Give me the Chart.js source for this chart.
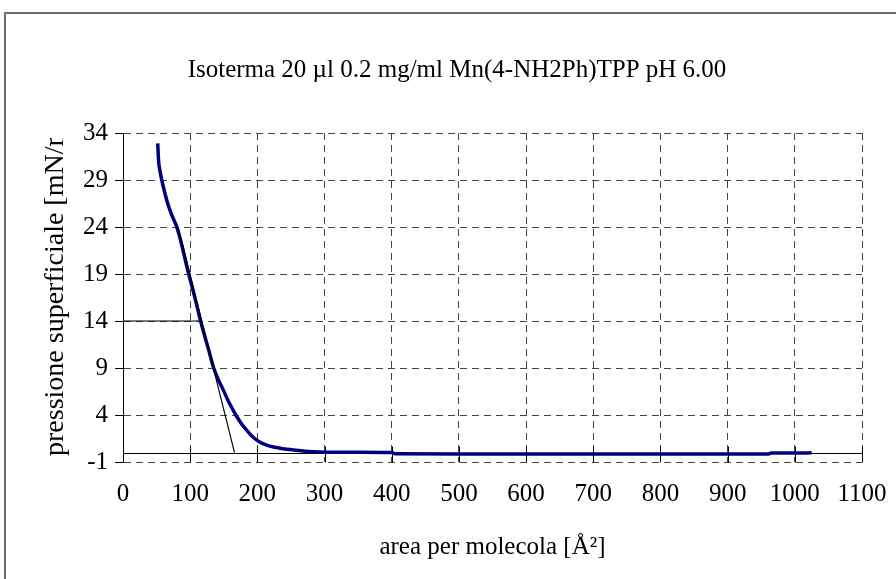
<!DOCTYPE html>
<html>
<head>
<meta charset="utf-8">
<title>Isoterma Mn(4-NH2Ph)TPP</title>
<script src="https://cdn.jsdelivr.net/npm/chart.js@4.4.1/dist/chart.umd.min.js"></script>
<style>
    html, body { margin: 0; padding: 0; background: #fff; }
    #wrap { width: 896px; height: 579px; }
</style>
</head>
<body>
<div id="wrap"><canvas id="isoterma" width="896" height="579"></canvas></div>
<script>
// area per molecola [Å²] and pressione superficiale [mN/m]
const area = [51.7, 53, 55, 58, 62, 67, 73, 80, 86, 91, 97, 103, 109, 115.5, 122, 128, 134.5, 141, 149, 156, 161, 168, 176, 184, 190, 196, 204, 214, 224, 238, 254, 268, 283, 300, 350, 400, 405, 500, 600, 700, 800, 900, 960, 965, 1000, 1025];
const pressione = [32.9, 31, 30.0, 28.9, 27.7, 26.4, 25.2, 24.0, 22.5, 21.0, 19.2, 17.6, 15.9, 14.0, 12.3, 10.8, 9.1, 7.9, 6.7, 5.6, 4.9, 4.0, 3.1, 2.4, 1.9, 1.5, 1.1, 0.8, 0.6, 0.42, 0.28, 0.18, 0.1, 0.05, 0.03, 0.0, -0.12, -0.15, -0.15, -0.15, -0.15, -0.15, -0.15, -0.05, -0.05, -0.02];

// tangente al tratto lineare e lettura a 14 mN/m
const tangenteArea = [82, 166];
const tangentePress = [24, 0];
const letturaArea = [0, 117];
const letturaPress = [14, 14];

const xTicks = [0, 100, 200, 300, 400, 500, 600, 700, 800, 900, 1000, 1100];
const yTicks = [-1, 4, 9, 14, 19, 24, 29, 34];

const titolo = 'Isoterma 20 \u00b5l 0.2 mg/ml Mn(4-NH2Ph)TPP pH 6.00';
const titoloX = 'area per molecola [\u00c5\u00b2]';
const titoloY = 'pressione superficiale [mN/m]';

const serif = "'Liberation Serif', 'Times New Roman', serif";

function toPoints(xs, ys) {
    return xs.map((x, i) => ({x: x, y: ys[i]}));
}

// cornice esterna, asse x sullo zero e titolo verticale tagliato
const extras = {
    id: 'extras',
    beforeDraw(chart) {
        const ctx = chart.ctx;
        ctx.save();
        ctx.strokeStyle = '#6e6e6e';
        ctx.lineWidth = 2;
        ctx.beginPath();
        ctx.moveTo(5, 600);
        ctx.lineTo(5, 13);
        ctx.lineTo(900, 13);
        ctx.stroke();
        ctx.restore();
    },
    beforeDatasetsDraw(chart) {
        const ctx = chart.ctx;
        const xs = chart.scales.x;
        const y0 = Math.round(chart.scales.y.getPixelForValue(0)) + 0.5;
        ctx.save();
        ctx.strokeStyle = '#000';
        ctx.lineWidth = 1;
        ctx.setLineDash([]);
        ctx.beginPath();
        ctx.moveTo(xs.left, y0);
        ctx.lineTo(xs.right, y0);
        xTicks.forEach(t => {
            const px = Math.round(xs.getPixelForValue(t)) + 0.5;
            ctx.moveTo(px, y0 - 7);
            ctx.lineTo(px, y0 + 9);
        });
        ctx.stroke();
        ctx.restore();
    },
    afterDraw(chart) {
        const ctx = chart.ctx;
        const ys = chart.scales.y;
        ctx.save();
        ctx.beginPath();
        ctx.rect(0, ys.top + 5, 120, ys.bottom);
        ctx.clip();
        ctx.translate(56, ys.bottom - 6);
        ctx.rotate(-Math.PI / 2);
        ctx.font = '28px ' + serif;
        ctx.fillStyle = '#000';
        ctx.textAlign = 'left';
        ctx.textBaseline = 'middle';
        ctx.fillText(titoloY, 0, 0);
        ctx.restore();
    }
};

const ctx = document.getElementById('isoterma').getContext('2d');
new Chart(ctx, {
    type: 'scatter',
    data: {
        datasets: [
            {
                label: 'tangente',
                data: toPoints(tangenteArea, tangentePress),
                showLine: true,
                borderColor: '#000',
                borderWidth: 1.2,
                pointRadius: 0
            },
            {
                label: 'lettura',
                data: toPoints(letturaArea, letturaPress),
                showLine: true,
                borderColor: '#000',
                borderWidth: 1.2,
                pointRadius: 0
            },
            {
                label: 'isoterma',
                data: toPoints(area, pressione),
                showLine: true,
                borderColor: '#00007f',
                borderWidth: 3.5,
                pointRadius: 0,
                cubicInterpolationMode: 'monotone'
            }
        ]
    },
    options: {
        responsive: false,
        animation: false,
        layout: {padding: {left: 52, top: 0, right: 34, bottom: 0}},
        plugins: {
            legend: {display: false},
            tooltip: {enabled: false},
            title: {
                display: true,
                text: titolo,
                color: '#000',
                font: {family: serif, size: 25, weight: 'normal', lineHeight: 1.2},
                padding: {top: 55, bottom: 48}
            }
        },
        scales: {
            x: {
                type: 'linear',
                min: 0,
                max: 1100,
                afterBuildTicks(scale) { scale.ticks = xTicks.map(v => ({value: v})); },
                afterFit(scale) {
                    scale.height = 117;
                    scale.paddingLeft = 0;
                    scale.paddingRight = 0;
                },
                grid: {color: '#444', drawTicks: false},
                border: {display: false, dash: [7, 5]},
                ticks: {color: '#000', padding: 17, font: {family: serif, size: 25}, callback: v => String(v)},
                title: {
                    display: true,
                    text: titoloX,
                    color: '#000',
                    font: {family: serif, size: 25, lineHeight: 1.2},
                    padding: {top: 0, bottom: 17}
                }
            },
            y: {
                type: 'linear',
                min: -1,
                max: 34,
                afterBuildTicks(scale) { scale.ticks = yTicks.map(v => ({value: v})); },
                afterFit(scale) { scale.width = 71; },
                grid: {color: '#444', tickLength: 8, tickColor: '#000', tickBorderDash: []},
                border: {display: true, color: '#000', width: 1, dash: [7, 5]},
                ticks: {color: '#000', padding: 7, font: {family: serif, size: 25}, callback: v => String(v)}
            }
        }
    },
    plugins: [extras]
});
</script>
</body>
</html>
